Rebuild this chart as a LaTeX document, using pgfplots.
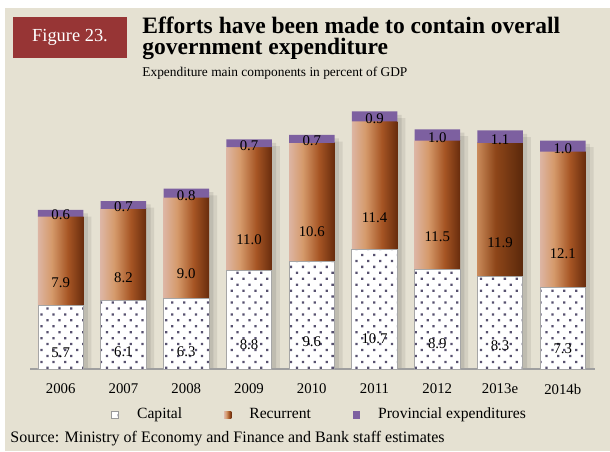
\documentclass[border=0pt]{standalone}
\usepackage{fontspec}
\setmainfont{Liberation Serif}
\usepackage{pgfplots}
\usepackage{pgfplotstable}
\pgfplotsset{compat=1.18}
\usetikzlibrary{patterns.meta}

\definecolor{bg}{HTML}{E5E1D2}
\definecolor{figred}{HTML}{973535}
\definecolor{provc}{HTML}{7D60A0}
\definecolor{dotc}{HTML}{57516F}
\definecolor{recA}{HTML}{DDB5A3}
\definecolor{recB}{HTML}{D59A6B}
\definecolor{recC}{HTML}{A65524}
\definecolor{recD}{HTML}{682C0D}
\definecolor{recE}{HTML}{C98A5A}
\definecolor{recF}{HTML}{8E4619}
\definecolor{recG}{HTML}{5A280B}
\pgfdeclarehorizontalshading{recshade}{100bp}{color(0bp)=(recA); color(25bp)=(recA);
  color(40bp)=(recB); color(58bp)=(recC); color(75bp)=(recD); color(100bp)=(recD)}
\pgfdeclarehorizontalshading{recdark}{100bp}{color(0bp)=(recE); color(25bp)=(recE);
  color(45bp)=(recF); color(75bp)=(recG); color(100bp)=(recG)}

% percent of GDP
\pgfplotstableread{
x cap  rec  prov
0 5.7  7.9  0.6
1 6.1  8.2  0.7
2 6.3  9.0  0.8
3 8.8  11.0 0.7
4 9.6  10.6 0.7
5 10.7 11.4 0.9
6 8.9  11.5 1.0
7 8.3  11.9 1.1
8 7.3  12.1 1.0
}\expdata

\pgfplotsset{
  base/.style={x=31.375pt, y=5.6pt, xmin=-0.49, xmax=8.514, ymin=0, ymax=25,
    at={(15pt,41pt)}, anchor=south west, clip=false},
  lbl/.style={nodes near coords={\pgfmathprintnumber[fixed,fixed zerofill,precision=1]{\pgfplotspointmeta}},
    point meta=explicit, visualization depends on={rawy\as\segh},
    /pgf/number format/assume math mode=true,
    every node near coord/.style={anchor=center, yshift={-\segh*1.4pt}, text=black,
      font=\fontsize{7.4}{8}\selectfont}},
  rs/.code={\ifnum#1=7\relax\pgfkeysalso{shading=recdark}\else\pgfkeysalso{shading=recshade}\fi},
}

\begin{document}
\begin{tikzpicture}
\path[use as bounding box] (0,0) rectangle (305pt,225.5pt);
\fill[bg] (2.5pt,0) rectangle (305pt,221.5pt);
\fill[figred] (6.5pt,217pt) rectangle (63.5pt,196.5pt);
\node[white, font=\fontsize{9.2}{11}\selectfont] at (35pt,207pt) {Figure 23.};
\node[anchor=base west, inner sep=0, font=\bfseries\fontsize{11.75}{13}\selectfont] at (71pt,208.5pt) {Efforts have been made to contain overall};
\node[anchor=base west, inner sep=0, font=\bfseries\fontsize{11.75}{13}\selectfont] at (71pt,198pt) {government expenditure};
\node[anchor=base west, inner sep=0, font=\fontsize{6.7}{8}\selectfont] at (71pt,187.5pt) {Expenditure main components in percent of GDP};

% soft shadows behind the bars
\begin{axis}[base, hide axis, ybar, bar width=22.75pt]
\addplot[draw=none, fill=black, fill opacity=0.09, bar shift=2.2pt]
  table[x=x, y expr=\thisrow{cap}+\thisrow{rec}+\thisrow{prov}-0.3] {\expdata};
\addplot[draw=none, fill=black, fill opacity=0.08, bar shift=4pt]
  table[x=x, y expr=\thisrow{cap}+\thisrow{rec}+\thisrow{prov}-0.6] {\expdata};
\end{axis}

% recurrent bars, one plot per bar so that each gets its own shading
\begin{axis}[base, hide axis, ybar, bar width=22.75pt]
\pgfplotsinvokeforeach{0,...,8}{
\addplot[draw=none, rs=#1, bar shift=0pt, x filter/.expression={abs(x-#1)<0.1 ? x : nan}]
  table[x=x, y expr=\thisrow{cap}+\thisrow{rec}] {\expdata};
}
\end{axis}

\begin{axis}[base, ybar stacked, bar width=22.75pt,
  axis x line=bottom, axis y line=none,
  x axis line style={-, line width=1.4pt, color=gray!75},
  xtick={0,...,8}, xticklabels={2006,2007,2008,2009,2010,2011,2012,2013e,2014b},
  major tick length=0,
  xticklabel style={font=\fontsize{7.4}{8}\selectfont, anchor=center, yshift=-10pt},
  legend style={at={(0.5,0)}, anchor=center, xshift=4pt, yshift=-23pt,
    legend columns=3, draw=none, fill=none, font=\fontsize{7.8}{9}\selectfont,
    /tikz/every odd column/.append style={column sep=7pt},
    /tikz/every even column/.append style={column sep=19pt}},
  legend cell align=left,
]
\addplot[fill=white, draw=gray!70, postaction={pattern={Dots[radius=0.8pt, distance=4.2pt, angle=45]}, pattern color=dotc},
  lbl,
  legend image code/.code={\draw[gray!80, fill=white] (0pt,-1.8pt) rectangle (3.6pt,1.8pt);}]
  table[x=x, y=cap, meta=cap] {\expdata};
\addlegendentry{Capital}
\addplot[draw=none, fill=none,
  lbl,
  legend image code/.code={\shade[shading=recshade] (0pt,-1.8pt) rectangle (3.6pt,1.8pt);}]
  table[x=x, y=rec, meta=rec] {\expdata};
\addlegendentry{Recurrent}
\addplot[draw=none, fill=provc,
  lbl,
  legend image code/.code={\fill[provc] (0pt,-1.8pt) rectangle (3.6pt,1.8pt);}]
  table[x=x, y=prov, meta=prov] {\expdata};
\addlegendentry{Provincial expenditures}
\end{axis}

\node[anchor=base west, inner sep=0, font=\fontsize{8}{9}\selectfont] at (5pt,4.5pt) {Source: Ministry of Economy and Finance and Bank staff estimates};
\end{tikzpicture}
\end{document}
